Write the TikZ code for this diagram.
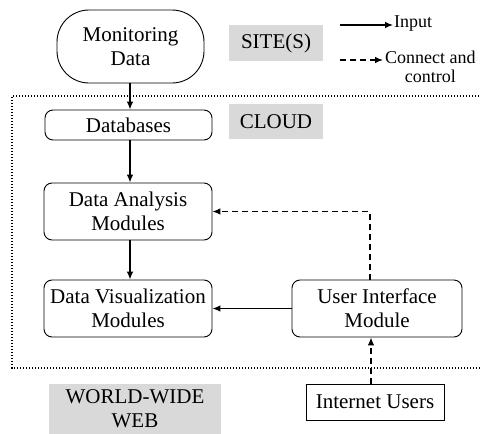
\documentclass[tikz,border=0pt]{standalone}
\usepackage{fontspec}
\setmainfont{Liberation Serif}
\usetikzlibrary{arrows.meta}
\begin{document}
\begin{tikzpicture}[x=1pt,y=-1pt,
  every node/.style={inner sep=0pt, align=center, font=\fontsize{21}{24}\selectfont},
  box/.style={draw, line width=0.9pt, rounded corners=8pt},
  grayfill/.style={fill=black!15},
  arr/.style={line width=1.1pt, -{Latex[length=8pt,width=6.5pt]}},
  darr/.style={line width=1.1pt, dash pattern=on 6pt off 4pt, -{Latex[length=8pt,width=6.5pt]}},
  legendtext/.style={font=\fontsize{18}{19}\selectfont}]
\useasboundingbox (0,0) rectangle (480,434);
% cloud region
\draw[line width=1.3pt, dash pattern=on 1.3pt off 1.7pt] (482,96) -- (12,96) -- (12,368) -- (482,368);
% nodes
\node[box, rounded corners=32pt, minimum width=147pt, minimum height=73pt] (mon) at (130.5,46.5) {Monitoring\\Data};
\node[grayfill, minimum width=94pt, minimum height=36pt] (site) at (276,43) {SITE(S)};
\node[box, minimum width=167pt, minimum height=30pt] (db) at (128.5,125) {Databases};
\node[grayfill, minimum width=94pt, minimum height=35pt] (cloud) at (276,121.5) {CLOUD};
\node[box, minimum width=168pt, minimum height=57pt] (da) at (128,211.5) {Data Analysis\\Modules};
\node[box, minimum width=168pt, minimum height=57pt] (dv) at (128,308.5) {Data Visualization\\Modules};
\node[box, minimum width=170pt, minimum height=57pt] (ui) at (377,308.5) {User Interface\\Module};
\node[draw, line width=0.9pt, minimum width=138pt, minimum height=36pt] (inet) at (375,402) {Internet Users};
\node[grayfill, minimum width=172pt, minimum height=50pt] (www) at (135,409) {WORLD-WIDE\\WEB};
% legend
\coordinate (la) at (340,25);
\coordinate (lb) at (393,25);
\coordinate (lc) at (340,60);
\coordinate (ld) at (383,60);
\draw[arr] (la) -- (lb);
\draw[darr] (lc) -- (ld);
\node[legendtext, anchor=west] (lin) at (394,24) {Input};
\node[legendtext, anchor=west] (lcc) at (385,67) {Connect and\\control};
% connectors
\draw[arr] (mon.south -| 130,0) -- (db.north -| 130,0);
\draw[arr] (db.south -| 130,0) -- (da.north -| 130,0);
\draw[arr] (da.south -| 130,0) -- (dv.north -| 130,0);
\draw[arr] (ui.west) -- (dv.east);
\draw[darr] ([xshift=-7pt]ui.north) |- (da.east);
\draw[darr] ([xshift=-4pt]inet.north) -- ([xshift=-4pt]inet.north |- ui.south);
\end{tikzpicture}
\end{document}
